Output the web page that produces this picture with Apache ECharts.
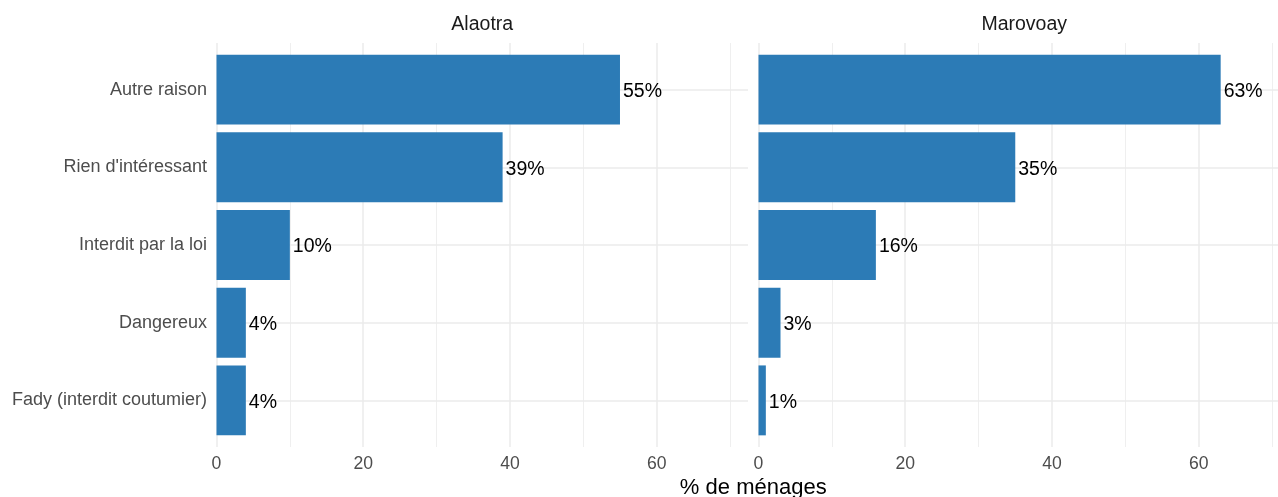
<!DOCTYPE html>
<html><head><meta charset="utf-8">
<script src="https://cdn.jsdelivr.net/npm/echarts@6/dist/echarts.min.js"></script>
<style>html,body{margin:0;padding:0;background:#fff}#c{width:1278px;height:497px}</style>
</head><body><div id="c"></div>
<script>
// ---- data ----
const categories = ["Autre raison", "Rien d'intéressant", "Interdit par la loi", "Dangereux", "Fady (interdit coutumier)"];
const panels = ["Alaotra", "Marovoay"];
const alaotraValues = [55, 39, 10, 4, 4];
const marovoayValues = [63, 35, 16, 3, 1];
const xTicks = [0, 20, 40, 60];
const xMinorTicks = [10, 30, 50, 70];
const axisTitle = "% de ménages";

// ---- layout ----
const FONT = '"Liberation Sans", Arial, sans-serif';
const xMax = 72.45;
const panelLefts = [216.5, 758.5];
const panelWidth = 531.5;
const pxPerUnit = panelWidth / xMax;
// right panel is cut by the canvas edge in the reference
const panelWidths = [panelWidth, 1278 - panelLefts[1]];
const panelMaxes = [xMax, (1278 - panelLefts[1]) / pxPerUnit];
const panelTop = 43, panelHeight = 404;
const unit = panelHeight / 5.2;
const barTop = panelTop + 0.1 * unit, barHeight = unit * 5;
const grey = '#ebebeb';
const seriesData = [alaotraValues, marovoayValues];

const grids = [], xAxes = [], yAxes = [], series = [], graphics = [];
panels.forEach((name, p) => {
  const left = panelLefts[p];
  const w = panelWidths[p];
  const mx = panelMaxes[p];
  const gO = grids.length;
  grids.push({left: left, top: panelTop, width: w, height: panelHeight, containLabel: false});
  const gB = grids.length;
  grids.push({left: left, top: barTop, width: w, height: barHeight, containLabel: false});

  xAxes.push({
    type: 'value', gridIndex: gO, min: 0, max: mx, position: 'bottom',
    axisLine: {show: false}, axisTick: {show: false, customValues: xTicks},
    axisLabel: {customValues: xTicks, color: '#4d4d4d', fontSize: 17.6, fontFamily: FONT, margin: 8},
    splitLine: {show: true, lineStyle: {color: grey, width: 1.5}}
  });
  xAxes.push({
    type: 'value', gridIndex: gO, min: 0, max: mx, position: 'top',
    axisLine: {show: false}, axisTick: {show: false, customValues: xMinorTicks},
    axisLabel: {show: false, customValues: xMinorTicks},
    splitLine: {show: true, lineStyle: {color: grey, width: 0.8}}
  });
  const xBar = xAxes.length;
  xAxes.push({type: 'value', gridIndex: gB, min: 0, max: mx, show: false});

  yAxes.push({
    type: 'value', gridIndex: gO, min: 0.4, max: 5.6, inverse: true,
    axisLine: {show: false}, axisTick: {show: false, customValues: [1, 2, 3, 4, 5]},
    axisLabel: {show: p === 0, customValues: [1, 2, 3, 4, 5], color: '#4d4d4d', fontSize: 18, fontFamily: FONT, margin: 9.5,
      padding: [3, 0, 0, 0], formatter: v => categories[Math.round(v) - 1]},
    splitLine: {show: true, lineStyle: {color: grey, width: 1.5}}
  });
  const yBar = yAxes.length;
  yAxes.push({type: 'category', gridIndex: gB, data: categories, inverse: true, show: false});

  series.push({
    type: 'bar', name: name, xAxisIndex: xBar, yAxisIndex: yBar,
    data: seriesData[p], barWidth: '90%',
    itemStyle: {color: '#2c7bb6'},
    label: {show: true, position: 'right', distance: 3, offset: [0, 2], formatter: '{c}%', color: '#000', fontSize: 19.5, fontFamily: FONT},
    z: 5
  });

  graphics.push({type: 'text', x: left + panelWidth / 2, y: 25,
    style: {text: name, fill: '#1a1a1a', font: '19.5px ' + FONT, align: 'center', verticalAlign: 'middle'}});
});
graphics.push({type: 'text', x: (panelLefts[0] + panelLefts[1] + panelWidth) / 2, y: 488,
  style: {text: axisTitle, fill: '#000', font: '22px ' + FONT, align: 'center', verticalAlign: 'middle'}});

const chart = echarts.init(document.getElementById('c'));
chart.setOption({
  animation: false,
  backgroundColor: '#fff',
  grid: grids, xAxis: xAxes, yAxis: yAxes, series: series, graphic: graphics
});
</script></body></html>
